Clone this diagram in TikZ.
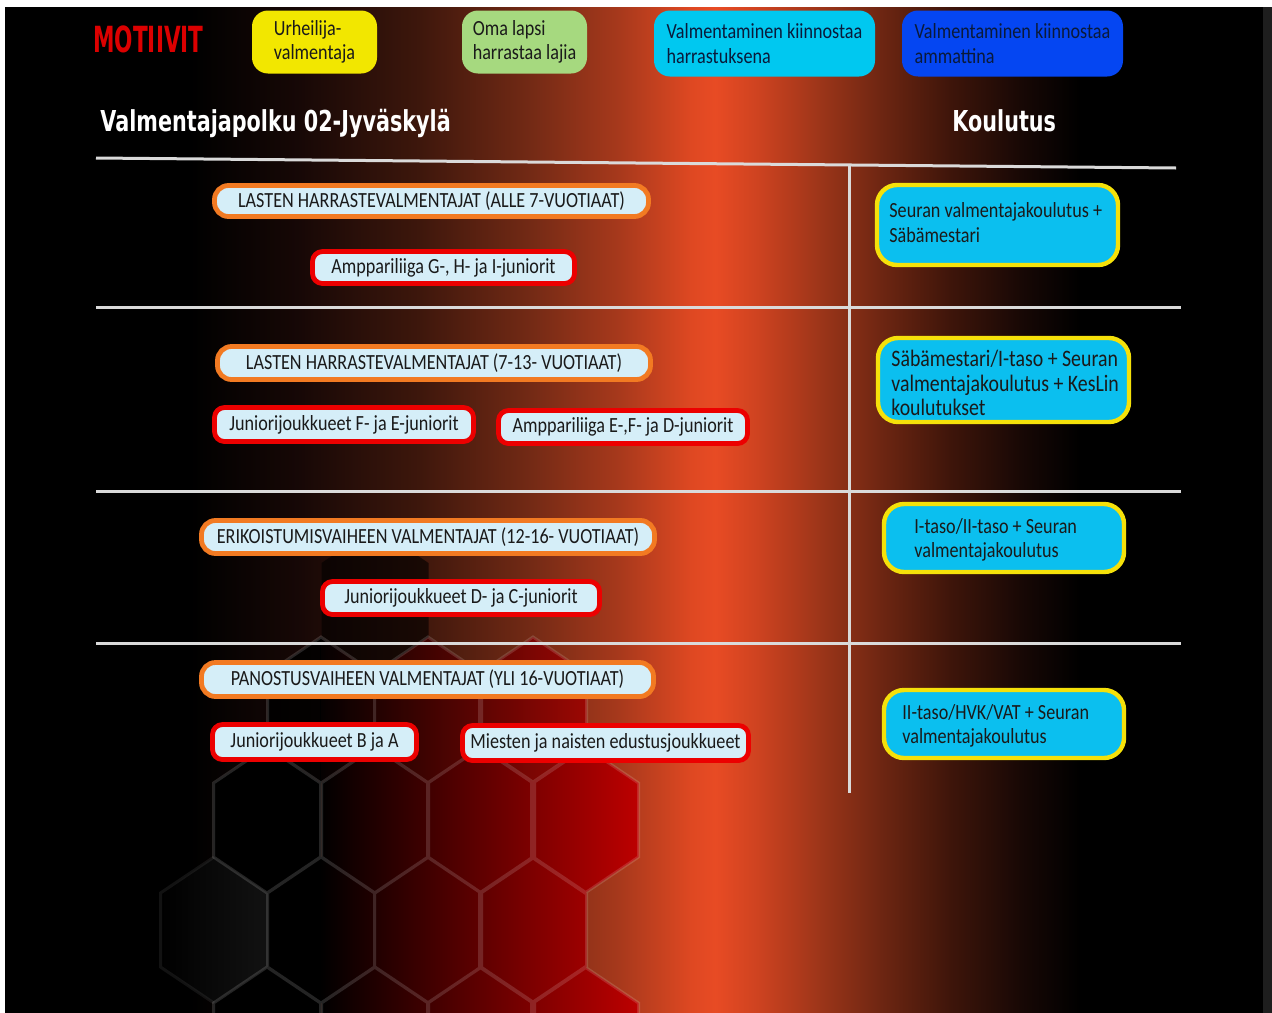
\documentclass[tikz,border=0pt]{standalone}
\usepackage{fontspec}
\setmainfont{Carlito}[FakeStretch=0.84]
\newfontfamily\headfont{DejaVu Sans}[FakeStretch=0.72]
\newfontfamily\motfont{DejaVu Sans}[FakeStretch=0.60]
\definecolor{gA}{HTML}{170806}
\definecolor{gB}{HTML}{3E170C}
\definecolor{gC}{HTML}{732A15}
\definecolor{gD}{HTML}{A8391C}
\definecolor{gE}{HTML}{DE4822}
\definecolor{gF}{HTML}{E84B24}
\definecolor{gG}{HTML}{CC4220}
\definecolor{gH}{HTML}{9C3519}
\definecolor{gI}{HTML}{6E2612}
\definecolor{gJ}{HTML}{3E150A}
\definecolor{gK}{HTML}{180805}
\definecolor{edgegray}{HTML}{1E1E1E}
\definecolor{hexred}{HTML}{C00000}
\definecolor{hexgray}{HTML}{121212}
\definecolor{divgray}{HTML}{DADADA}
\definecolor{boxlight}{HTML}{D5EEF8}
\definecolor{ageorange}{HTML}{F27A22}
\definecolor{teamred}{HTML}{EC0000}
\definecolor{eduyellow}{HTML}{F5E10A}
\definecolor{educyan}{HTML}{0BBFEF}
\definecolor{txtdark}{HTML}{1A1A1A}
\definecolor{motyellow}{HTML}{F2E700}
\definecolor{motgreen}{HTML}{A6D97F}
\definecolor{motcyan}{HTML}{00C8F0}
\definecolor{motblue}{HTML}{0546F2}
\definecolor{navytxt}{HTML}{0A1A3A}
\definecolor{motred}{HTML}{DC0000}
\newcommand\bgseg[4]{\shade[left color=#3,right color=#4] (#1,7) rectangle (#2+1,1016);}
\tikzset{
  boxfont/.style={font=\fontsize{10.8}{12.3}\selectfont},
  motbox/.style={boxfont, rounded corners=8pt, inner sep=0pt, align=left, text=txtdark},
  agebox/.style={boxfont, draw=ageorange, line width=2.4pt, fill=boxlight, rounded corners=7pt, inner sep=0pt, text=txtdark},
  teambox/.style={boxfont, draw=teamred, line width=2.4pt, fill=boxlight, rounded corners=5pt, inner sep=0pt, text=txtdark},
  edubox/.style={draw=eduyellow, line width=2.2pt, fill=educyan, rounded corners=10pt, inner sep=0pt},
  edutext/.style={boxfont, anchor=west, inner sep=0pt, align=left, text=txtdark},
  divider/.style={draw=divgray, line width=1.5pt},
  heading/.style={text=white, font=\headfont\bfseries\fontsize{14.4}{16}\selectfont, inner sep=0pt},
}
\begin{document}
\begin{tikzpicture}[x=0.5pt,y=-0.5pt]
\useasboundingbox (0,0) rectangle (1272,1012);
% frame and background
\fill[white] (0,0) rectangle (1272,1012);
\fill[black] (5,7) rectangle (1263,1016);
\fill[edgegray] (1263,7) rectangle (1272,1016);
\bgseg{190}{300}{black}{gA}
\bgseg{300}{420}{gA}{gB}
\bgseg{420}{530}{gB}{gC}
\bgseg{530}{620}{gC}{gD}
\bgseg{620}{690}{gD}{gE}
\bgseg{690}{715}{gE}{gF}
\bgseg{715}{760}{gF}{gG}
\bgseg{760}{820}{gG}{gH}
\bgseg{820}{880}{gH}{gI}
\bgseg{880}{950}{gI}{gJ}
\bgseg{950}{1020}{gJ}{gK}
\shade[left color=gK,right color=black] (1020,7) rectangle (1080,1016);
% hexagon pattern
\begin{scope}
\clip \foreach \cx/\cy in {321/930,428/930,533/930,267/820,375/820,481/820,585/820,267/1040,375/1040,481/1040,585/1040}
  {(\cx,\cy-73) -- (\cx+53.5,\cy-37) -- (\cx+53.5,\cy+37) -- (\cx,\cy+73) -- (\cx-53.5,\cy+37) -- (\cx-53.5,\cy-37) -- cycle};
\fill[black] (150,600) rectangle (321,1016);
\shade[left color=black,right color=hexred] (320,600) rectangle (645,1016);
\end{scope}
\begin{scope}
\clip (214,857) -- (267.5,893) -- (267.5,967) -- (214,1003) -- (160.5,967) -- (160.5,893) -- cycle;
\shade[left color=black,right color=hexgray] (160,850) rectangle (268,1010);
\end{scope}
\begin{scope}
\clip \foreach \cx/\cy in {321/710,428/710,533/710}
  {(\cx,\cy-73) -- (\cx+53.5,\cy-37) -- (\cx+53.5,\cy+37) -- (\cx,\cy+73) -- (\cx-53.5,\cy+37) -- (\cx-53.5,\cy-37) -- cycle};
\fill[black,opacity=0.85] (150,600) rectangle (321,800);
\shade[left color=black,right color=hexred,opacity=0.85] (320,600) rectangle (645,800);
\end{scope}
\begin{scope}
\clip (375,527) -- (428.5,563) -- (428.5,637) -- (375,673) -- (321.5,637) -- (321.5,563) -- cycle;
\fill[black,opacity=0.6] (300,520) rectangle (440,680);
\end{scope}
\draw[white,opacity=0.14,line width=1.5pt] \foreach \cx/\cy in {321/930,428/930,533/930,267/820,375/820,481/820,585/820,267/1040,375/1040,481/1040,585/1040,321/710,428/710,533/710}
  {(\cx,\cy-73) -- (\cx+53.5,\cy-37) -- (\cx+53.5,\cy+37) -- (\cx,\cy+73) -- (\cx-53.5,\cy+37) -- (\cx-53.5,\cy-37) -- cycle};
\draw[white,opacity=0.07,line width=1.5pt] (214,857) -- (160.5,893) -- (160.5,967) -- (214,1003);
% dividers
\draw[divider] (96,158) -- (1176,168);
\draw[divider] (96,307) -- (1181,307);
\draw[divider] (96,491) -- (1181,491);
\draw[divider] (96,643) -- (1181,643);
\draw[divider] (849,166) -- (849,793);
% header
\node[anchor=base west, text=motred, font=\motfont\bfseries\fontsize{18}{20}\selectfont, inner sep=0pt] (motiivit) at (93,52) {MOTIIVIT};
\node[motbox, fill=motyellow, minimum width=62.5pt, minimum height=31.5pt] (m1) at (314.5,42) {Urheilija-\\valmentaja};
\node[motbox, fill=motgreen, minimum width=62.5pt, minimum height=31.5pt] (m2) at (524.5,42) {Oma lapsi\\harrastaa lajia};
\node[motbox, fill=motcyan, text=navytxt, minimum width=110.5pt, minimum height=33pt] (m3) at (764.5,43.5) {Valmentaminen kiinnostaa\\harrastuksena};
\node[motbox, fill=motblue, text=navytxt, minimum width=110.5pt, minimum height=33pt] (m4) at (1012.5,43.5) {Valmentaminen kiinnostaa\\ammattina};
\node[heading, anchor=base west] (title) at (100,131) {Valmentajapolku 02-Jyväskylä};
\node[heading, anchor=base west] (koulutus) at (952,131) {Koulutus};
% row 1
\node[agebox, minimum width=217pt, minimum height=15.5pt] (a1) at (431.5,201) {LASTEN HARRASTEVALMENTAJAT (ALLE 7-VUOTIAAT)};
\node[teambox, minimum width=131pt, minimum height=16pt] (t1) at (443.5,267.5) {Amppariliiga G-, H- ja I-juniorit};
\node[edubox, minimum width=120.5pt, minimum height=40pt] (e1) at (997.5,225) {};
\node[edutext] (e1t) at (889,222.5) {Seuran valmentajakoulutus +\\Säbämestari};
% row 2
\node[agebox, minimum width=216.5pt, minimum height=16.5pt] (a2) at (434,363) {LASTEN HARRASTEVALMENTAJAT (7-13- VUOTIAAT)};
\node[teambox, minimum width=129.5pt, minimum height=17pt] (t2) at (344,424.5) {Juniorijoukkueet F- ja E-juniorit};
\node[teambox, minimum width=124.5pt, minimum height=16.5pt] (t3) at (623,427) {Amppariliiga E-,F- ja D-juniorit};
\node[edubox, minimum width=125.5pt, minimum height=42pt] (e2) at (1003.5,380) {};
\node[edutext, font=\fontsize{11.8}{12.3}\selectfont] (e2t) at (891,383) {Säbämestari/I-taso + Seuran\\valmentajakoulutus + KesLin\\koulutukset};
% row 3
\node[agebox, minimum width=226.5pt, minimum height=16.5pt] (a3) at (428,537) {ERIKOISTUMISVAIHEEN VALMENTAJAT (12-16- VUOTIAAT)};
\node[teambox, minimum width=138.5pt, minimum height=16.5pt] (t4) at (461,598) {Juniorijoukkueet D- ja C-juniorit};
\node[edubox, minimum width=120pt, minimum height=34pt] (e3) at (1004,538) {};
\node[edutext] (e3t) at (914,540) {I-taso/II-taso + Seuran\\valmentajakoulutus};
% row 4
\node[agebox, minimum width=226pt, minimum height=17pt] (a4) at (427.5,679.5) {PANOSTUSVAIHEEN VALMENTAJAT (YLI 16-VUOTIAAT)};
\node[teambox, minimum width=102pt, minimum height=17.5pt] (t5) at (314.5,742) {Juniorijoukkueet B ja A};
\node[teambox, minimum width=143pt, minimum height=17.5pt] (t6) at (605.5,743) {Miesten ja naisten edustusjoukkueet};
\node[edubox, minimum width=120pt, minimum height=34pt] (e4) at (1004,724) {};
\node[edutext] (e4t) at (902,726) {II-taso/HVK/VAT + Seuran\\valmentajakoulutus};
\end{tikzpicture}
\end{document}
